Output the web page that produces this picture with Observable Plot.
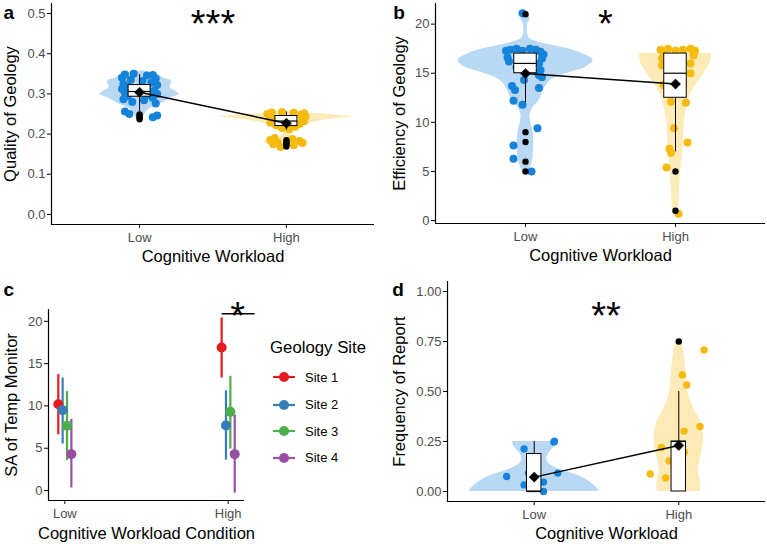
<!DOCTYPE html>
<html><head><meta charset="utf-8">
<script src="https://cdn.jsdelivr.net/npm/d3@7"></script>
<script src="https://cdn.jsdelivr.net/npm/@observablehq/plot@0.6"></script>
<style>
body{margin:0;background:#fff;font-family:"Liberation Sans",Arial,Helvetica,sans-serif;}
#root{position:relative;width:767px;height:544px;overflow:hidden;background:#fff}
#root svg{overflow:visible}
g[aria-label="x-axis tick label"], g[aria-label="y-axis tick label"]{fill:#4d4d4d}
.leg{position:absolute;white-space:nowrap;line-height:1;color:#000}
</style></head><body><div id="root"></div>
<script>
const FONT = '"Liberation Sans", Arial, Helvetica, sans-serif';
const categories = ["Low", "High"];
const BLUE = "#1583DA", YELLOW = "#F4BB0E";
const BLUE_L = "#B9D8F3", YELLOW_L = "#FCEBB6";
const sigLabels = ["***", "*", "*", "**"];

// ---- Panel a: Quality of Geology  [value, jitter offset]
const aLowPts = [[0.348,-0.10],[0.350,-0.04],[0.346,0.05],[0.347,0.09],[0.340,-0.12],[0.338,0.11],[0.335,-0.06],[0.332,0.02],[0.328,0.08],[0.325,-0.11],[0.322,0.12],[0.318,-0.08],[0.315,0.05],[0.312,-0.12],[0.308,0.10],[0.305,-0.03],[0.302,-0.10],[0.300,0.12],[0.297,0.06],[0.294,-0.08],[0.290,0.09],[0.287,-0.11],[0.284,0.03],[0.280,-0.05],[0.276,0.11],[0.256,-0.10],[0.250,-0.07],[0.246,0.12],[0.242,0.09]];
const aHighPts = [[0.254,-0.10],[0.255,-0.03],[0.253,0.05],[0.252,0.12],[0.250,-0.13],[0.248,0.10],[0.245,-0.12],[0.243,0.13],[0.240,-0.10],[0.238,0.11],[0.235,-0.08],[0.232,0.12],[0.228,-0.11],[0.225,0.09],[0.222,-0.07],[0.218,0.06],[0.215,-0.03],[0.212,0.02],[0.190,-0.08],[0.188,0.04],[0.185,-0.11],[0.183,0.09],[0.180,-0.06],[0.178,0.11],[0.175,-0.09],[0.172,0.05],[0.168,-0.04]];
const aLowOut = [0.249,0.245,0.241,0.237];
const aHighOut = [0.185,0.181,0.177,0.173,0.169];
const aLowViolin = [[0.236,0.015],[0.245,0.03],[0.255,0.045],[0.265,0.075],[0.275,0.14],[0.285,0.19],[0.292,0.23],[0.299,0.27],[0.306,0.25],[0.314,0.21],[0.322,0.21],[0.331,0.22],[0.34,0.16],[0.348,0.13],[0.354,0.07],[0.357,0.02]];
const aHighViolin = [[0.165,0.02],[0.17,0.08],[0.175,0.13],[0.18,0.15],[0.186,0.12],[0.192,0.05],[0.2,0.02],[0.208,0.025],[0.215,0.05],[0.222,0.1],[0.23,0.2],[0.237,0.3],[0.243,0.46],[0.247,0.35],[0.251,0.2],[0.255,0.08],[0.258,0.02]];
// box stats: [q1, median, q3, whiskerLow, whiskerHigh, mean]
const aLowBox = [0.293,0.306,0.322,0.256,0.348,0.304];
const aHighBox = [0.220,0.2325,0.245,0.210,0.255,0.227];

// ---- Panel b: Efficiency of Geology
const bLowPts = [[21.1,-0.02],[17.4,-0.10],[17.5,-0.06],[17.3,-0.02],[17.5,0.03],[17.4,0.07],[17.2,0.10],[17.3,-0.13],[16.9,0.12],[16.6,-0.12],[16.2,-0.11],[16.5,0.11],[16.0,0.09],[15.6,-0.06],[15.3,0.10],[15.1,0.08],[14.8,0.09],[14.6,0.11],[14.3,-0.01],[13.7,-0.09],[13.3,-0.07],[13.5,0.09],[12.2,-0.08],[11.8,-0.02],[9.4,0.08],[7.65,-0.08],[6.3,-0.08],[5.0,0.04]];
const bHighPts = [[17.4,-0.10],[17.5,-0.05],[17.3,0.0],[17.4,0.05],[17.5,0.10],[17.3,0.13],[17.2,-0.08],[16.8,0.12],[16.5,-0.09],[16.0,0.10],[15.8,-0.09],[15.0,0.10],[14.0,0.05],[13.8,-0.08],[12.1,-0.03],[12.0,0.07],[9.4,-0.01],[7.95,0.08],[7.3,-0.04],[6.9,-0.03],[5.4,-0.06],[0.7,0.02]];
const bLowOut = [21,9,8,6,5];
const bHighOut = [5,1];
const bLowViolin = [[5,0.02],[5.5,0.035],[6.5,0.05],[7.8,0.055],[9,0.05],[10,0.035],[10.7,0.03],[11.5,0.05],[12.2,0.09],[13.3,0.12],[14.3,0.17],[15.0,0.28],[15.6,0.4],[16.3,0.45],[16.8,0.41],[17.35,0.32],[17.7,0.22],[18.1,0.1],[18.5,0.03],[19.2,0.012],[20.0,0.015],[20.5,0.03],[21,0.02]];
const bHighViolin = [[1,0.02],[2.4,0.025],[4.1,0.03],[5.8,0.04],[7.5,0.05],[9.2,0.055],[10.9,0.067],[12.6,0.095],[13.9,0.14],[15.0,0.19],[16.0,0.23],[16.6,0.24],[17,0.24]];
const bLowBox = [15,16,17,12,17,14.97];
const bHighBox = [12.5,15,17,7,17,13.9];

// ---- Panel c: SA of Temp Monitor
const sites = ["Site 1","Site 2","Site 3","Site 4"];
const siteColors = ["#E41A1C","#377EB8","#4DAF4A","#984EA3"];
const cMeanLow = [10.2,9.5,7.65,4.3];
const cLoLow = [6.6,5.5,3.55,0.3];
const cHiLow = [13.7,13.3,11.7,8.4];
const cMeanHigh = [16.9,7.7,9.3,4.3];
const cLoHigh = [13.3,3.6,4.9,-0.3];
const cHiHigh = [20.4,11.8,13.5,8.9];
const cDodge = [-0.04,-0.0135,0.0135,0.04];
const cSigBar = [1.963, 2.165, 20.9];

// ---- Panel d: Frequency of Report
const dLowPts = [[0.075,-0.19],[0.213,-0.07],[0.092,-0.04],[0.033,-0.07],[0.047,0.064],[0.0,0.064],[0.247,0.136],[0.252,0.14],[0.092,0.163]];
const dHighPts = [[0.708,0.175],[0.583,0.025],[0.533,0.055],[0.325,0.147],[0.302,0.037],[0.22,-0.12],[0.197,0.04],[0.153,-0.067],[0.088,-0.198],[0.068,-0.09]];
const dLowOut = [];
const dHighOut = [0.75];
const dLowViolin = [[0,0.45],[0.02,0.43],[0.05,0.38],[0.075,0.32],[0.1,0.22],[0.125,0.13],[0.15,0.09],[0.175,0.09],[0.2,0.11],[0.225,0.14],[0.25,0.15]];
const dHighViolin = [[0,0.15],[0.05,0.15],[0.1,0.135],[0.15,0.145],[0.2,0.16],[0.25,0.17],[0.3,0.167],[0.35,0.15],[0.42,0.1],[0.5,0.063],[0.6,0.05],[0.7,0.035],[0.75,0.02]];
const dLowBox = [0,0,0.1875,0,0.25,0.072];
const dHighBox = [0,0.25,0.25,0,0.5,0.23];

const root = document.getElementById("root");

function violinMarks(groups, boxW, ptR) {
  const m = [];
  groups.forEach(g => {
    m.push(Plot.areaX(g.violin, {y: d => d[0], x1: d => g.c - d[1], x2: d => g.c + d[1], fill: g.light, curve: "catmull-rom"}));
  });
  groups.forEach(g => {
    m.push(Plot.dot(g.pts, {x: d => g.c + d[1], y: d => d[0], r: ptR, fill: g.color}));
  });
  groups.forEach(g => {
    const b = g.box;
    m.push(Plot.ruleX([g.c], {y1: b[3], y2: b[0], stroke: "black", strokeWidth: 1}));
    m.push(Plot.ruleX([g.c], {y1: b[2], y2: b[4], stroke: "black", strokeWidth: 1}));
    m.push(Plot.rect([b], {x1: g.c - boxW/2, x2: g.c + boxW/2, y1: d => d[0], y2: d => d[2], fill: "white", stroke: "black", strokeWidth: 1}));
    m.push(Plot.ruleY([b[1]], {x1: g.c - boxW/2, x2: g.c + boxW/2, stroke: "black", strokeWidth: 1.2}));
    m.push(Plot.dot(g.out, {x: g.c, y: d => d, r: 3.2, fill: "black"}));
  });
  const means = groups.map(g => ({x: g.c, y: g.box[5]}));
  m.push(Plot.line(means, {x: "x", y: "y", stroke: "black", strokeWidth: 1.4}));
  m.push(Plot.dot(means, {x: "x", y: "y", symbol: "diamond2", r: 4.6, fill: "black", stroke: "black", strokeWidth: 0.5}));
  return m;
}

function makePanel(cfg) {
  const p = Plot.plot({
    width: cfg.w, height: cfg.h,
    marginLeft: cfg.ml, marginRight: cfg.mr, marginTop: cfg.mt, marginBottom: cfg.mb,
    x: {type: "linear", domain: cfg.xDomain, axis: null},
    y: {domain: cfg.yDomain, axis: null},
    color: cfg.color,
    style: {fontFamily: FONT, background: "transparent", overflow: "visible"},
    marks: [
      ...cfg.marks,
      Plot.axisY({ticks: cfg.yTicks, tickFormat: cfg.yFmt, tickSize: 4, tickPadding: 2, fontSize: 13, label: null, stroke: "black"}),
      Plot.axisX({ticks: [1, 2], tickFormat: d => categories[d - 1], tickSize: 4, tickPadding: 4, fontSize: 13, label: null, stroke: "black"}),
      Plot.ruleX([cfg.xDomain[0]], {stroke: "black", strokeWidth: 1.2}),
      Plot.ruleY([cfg.yDomain[0]], {x1: cfg.xDomain[0], x2: cfg.xDomain[1], stroke: "black", strokeWidth: 1.2}),
      Plot.text([cfg.yTitle], {text: d => d, frameAnchor: "left", dx: cfg.yTitleX - cfg.ml, rotate: -90, textAnchor: "middle", lineAnchor: "middle", fontSize: 16.5, fill: "black"}),
      Plot.text([cfg.xTitle], {text: d => d, frameAnchor: "bottom", dy: cfg.xTitleDy, textAnchor: "middle", lineAnchor: "middle", fontSize: 16.5, fill: "black"}),
      Plot.text([cfg.tag], {text: d => d, frameAnchor: "top-left", dx: cfg.tagX - cfg.ml, dy: cfg.tagY - cfg.mt, fontSize: 19, fontWeight: "bold", textAnchor: "start", lineAnchor: "bottom", fill: "black"}),
      Plot.text([cfg.star], {text: d => d.s, x: d => d.x, y: d => d.y, fontSize: 38, lineAnchor: "middle", dy: 8, fill: "black"})
    ]
  });
  p.style.position = "absolute";
  p.style.left = cfg.x0 + "px";
  p.style.top = cfg.y0 + "px";
  root.append(p);
}

// Panel a
makePanel({
  x0: 0, y0: 0, w: 380, h: 270, ml: 51, mr: 6, mt: 3, mb: 46,
  xDomain: [0.4, 2.6], yDomain: [-0.025, 0.525],
  yTicks: [0, 0.1, 0.2, 0.3, 0.4, 0.5], yFmt: d3.format(".1f"),
  yTitle: "Quality of Geology", yTitleX: 10, xTitle: "Cognitive Workload", xTitleDy: 32,
  tag: "a", tagX: 3, tagY: 18.3,
  star: {s: sigLabels[0], x: 1.5, y: 0.4925},
  marks: violinMarks([
    {c: 1, violin: aLowViolin, pts: aLowPts, out: aLowOut, box: aLowBox, color: BLUE, light: BLUE_L},
    {c: 2, violin: aHighViolin, pts: aHighPts, out: aHighOut, box: aHighBox, color: YELLOW, light: YELLOW_L}
  ], 0.15, 4)
});

// Panel b
makePanel({
  x0: 380, y0: 0, w: 387, h: 270, ml: 55, mr: 2, mt: 3, mb: 47,
  xDomain: [0.4, 2.6], yDomain: [-0.3, 22.1],
  yTicks: [0, 5, 10, 15, 20], yFmt: d => String(d),
  yTitle: "Efficiency of Geology", yTitleX: 19, xTitle: "Cognitive Workload", xTitleDy: 32,
  tag: "b", tagX: 12.7, tagY: 18.3,
  star: {s: sigLabels[1], x: 1.533, y: 20.7},
  marks: violinMarks([
    {c: 1, violin: bLowViolin, pts: bLowPts, out: bLowOut, box: bLowBox, color: BLUE, light: BLUE_L},
    {c: 2, violin: bHighViolin, pts: bHighPts, out: bHighOut, box: bHighBox, color: YELLOW, light: YELLOW_L}
  ], 0.15, 4)
});

// Panel c
const cData = [];
sites.forEach((s, i) => {
  cData.push({site: s, x: 1 + cDodge[i], m: cMeanLow[i], lo: cLoLow[i], hi: cHiLow[i]});
  cData.push({site: s, x: 2 + cDodge[i], m: cMeanHigh[i], lo: cLoHigh[i], hi: cHiHigh[i]});
});
makePanel({
  x0: 0, y0: 270, w: 380, h: 274, ml: 48, mr: 136, mt: 39, mb: 44,
  xDomain: [0.9, 2.1], yDomain: [-1.18, 21.4],
  color: {domain: sites, range: siteColors},
  yTicks: [0, 5, 10, 15, 20], yFmt: d => String(d),
  yTitle: "SA of Temp Monitor", yTitleX: 11, xTitle: "Cognitive Workload Condition", xTitleDy: 33,
  tag: "c", tagX: 3, tagY: 25,
  star: {s: sigLabels[2], x: 2.058, y: 21.5},
  marks: [
    Plot.ruleX(cData, {x: "x", y1: "lo", y2: "hi", stroke: "site", strokeWidth: 2.2}),
    Plot.dot(cData, {x: "x", y: "m", r: 5, fill: "site"}),
    Plot.ruleY([cSigBar[2]], {x1: cSigBar[0], x2: cSigBar[1], stroke: "black", strokeWidth: 1.3})
  ]
});

// Legend for panel c
(function () {
  const t = document.createElement("div");
  t.className = "leg";
  t.style.left = "270px"; t.style.top = (348 - 8.3) + "px"; t.style.fontSize = "16.8px";
  t.textContent = "Geology Site";
  root.append(t);
  const ys = [377.3, 404.5, 431, 457.7];
  sites.forEach((s, i) => {
    const item = document.createElement("div");
    item.className = "leg";
    item.style.left = "272px"; item.style.top = (ys[i] - 8) + "px"; item.style.height = "16px";
    item.style.display = "flex"; item.style.alignItems = "center";
    const ns = "http://www.w3.org/2000/svg";
    const svg = document.createElementNS(ns, "svg");
    svg.setAttribute("width", 24); svg.setAttribute("height", 16);
    const ln = document.createElementNS(ns, "line");
    ln.setAttribute("x1", 1); ln.setAttribute("x2", 23); ln.setAttribute("y1", 8); ln.setAttribute("y2", 8);
    ln.setAttribute("stroke", siteColors[i]); ln.setAttribute("stroke-width", 2.2);
    const c = document.createElementNS(ns, "circle");
    c.setAttribute("cx", 12); c.setAttribute("cy", 8); c.setAttribute("r", 5); c.setAttribute("fill", siteColors[i]);
    svg.append(ln, c);
    const sp = document.createElement("span");
    sp.textContent = s; sp.style.fontSize = "13px"; sp.style.marginLeft = "9px";
    item.append(svg, sp);
    root.append(item);
  });
})();

// Panel d
makePanel({
  x0: 380, y0: 270, w: 387, h: 274, ml: 67, mr: 2, mt: 11, mb: 43,
  xDomain: [0.4, 2.6], yDomain: [-0.05, 1.05],
  yTicks: [0, 0.25, 0.5, 0.75, 1], yFmt: d3.format(".2f"),
  yTitle: "Frequency of Report", yTitleX: 19, xTitle: "Cognitive Workload", xTitleDy: 32,
  tag: "d", tagX: 11.7, tagY: 25,
  star: {s: sigLabels[3], x: 1.497, y: 0.915},
  marks: violinMarks([
    {c: 1, violin: dLowViolin, pts: dLowPts, out: dLowOut, box: dLowBox, color: BLUE, light: BLUE_L},
    {c: 2, violin: dHighViolin, pts: dHighPts, out: dHighOut, box: dHighBox, color: YELLOW, light: YELLOW_L}
  ], 0.1, 3.7)
});
</script></body></html>
